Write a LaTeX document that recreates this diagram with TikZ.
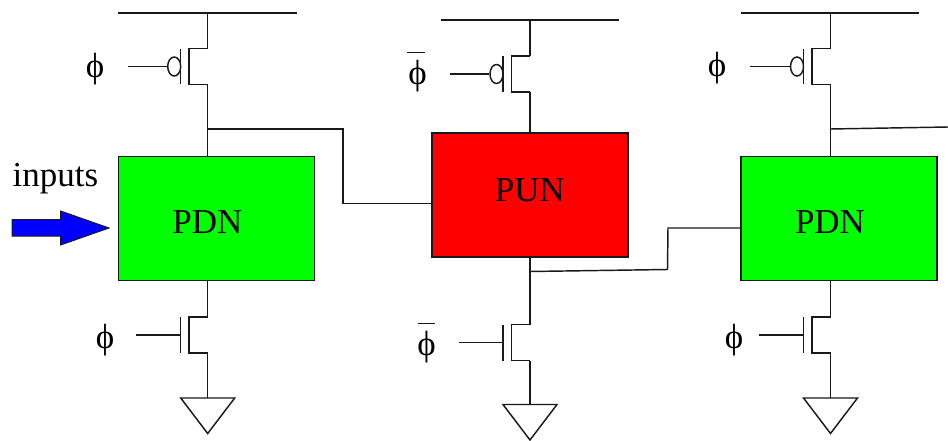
\documentclass[tikz,border=0pt]{standalone}
\usepackage{fontspec}
\setmainfont{Liberation Serif}
\usetikzlibrary{shapes.geometric,calc}
\tikzset{
  wire/.style={draw=black!90,line width=1.45pt,line join=miter},
  block/.style={draw=black!90,line width=1.6pt,minimum width=196pt,minimum height=124pt,inner sep=0pt,font=\fontsize{35}{35}\selectfont},
  lbl/.style={inner sep=0pt,font=\fontsize{35}{35}\selectfont},
  bubble/.style={ellipse,draw=black!90,line width=1.45pt,minimum width=13pt,minimum height=19pt,inner sep=0pt},
  pmos/.pic={
    \coordinate (-s) at (0,0);
    \coordinate (-d) at (0,36);
    \coordinate (-c1) at (-18.5,0);
    \coordinate (-c2) at (-18.5,36);
    \coordinate (-b1) at (-27,0.5);
    \coordinate (-b2) at (-27,36);
    \node[bubble] (-o) at (-33.5,18) {};
    \draw[wire] (-s) -- (-c1) -- (-c2) -- (-d);
    \draw[wire] (-b1) -- (-b2);
  },
  nmos/.pic={
    \coordinate (-s) at (0,0);
    \coordinate (-d) at (0,36);
    \coordinate (-c1) at (-18.5,0);
    \coordinate (-c2) at (-18.5,36);
    \coordinate (-b1) at (-27,0);
    \coordinate (-b2) at (-27,36);
    \coordinate (-g) at (-27,18);
    \draw[wire] (-s) -- (-c1) -- (-c2) -- (-d);
    \draw[wire] (-b1) -- (-b2);
  },
  gnd/.pic={
    \coordinate (-t) at (0,0);
    \draw[wire] (-27,0) -- (27,0) -- (0,35.5) -- cycle;
  }
}
\newcommand{\phisym}{\char"03D5 }
\begin{document}
\begin{tikzpicture}[x=1pt,y=-1pt]
\useasboundingbox (0,0) rectangle (948,441);
% stage 1
\coordinate (r1a) at (118,13); \coordinate (r1b) at (297,13); \coordinate (r1m) at (207.7,13);
\node[block,fill=green] (pdn1) at (216.3,218.5) {};
\node[lbl] (pdn1t) at (207.5,222) {PDN};
\pic (p1) at (207.7,48.5) {pmos};
\pic (n1) at (207.7,317) {nmos};
\pic (g1) at (207.7,398) {gnd};
\coordinate (pdn1top) at (207.7,157); \coordinate (pdn1bot) at (207.7,280);
\coordinate (g1in) at (127.5,66.5); \coordinate (g1nin) at (136,335);
\draw[wire] (r1a) -- (r1b);
\draw[wire] (r1m) -- (p1-s);
\draw[wire] (p1-d) -- (pdn1top);
\draw[wire] (g1in) -- (p1-o.west);
\draw[wire] (pdn1bot) -- (n1-s);
\draw[wire] (n1-d) -- (g1-t);
\draw[wire] (g1nin) -- (n1-g);
\node[lbl] (ph1) at (95,69) {\phisym};
\node[lbl] (ph1n) at (105,340) {\phisym};
\node[lbl] (inp) at (55.5,179) {inputs};
% arrow
\draw[draw=black!90,line width=1pt,fill=blue] (12,219.5) -- (60.5,219.5) -- (60.5,211) -- (109,228) -- (60.5,245) -- (60.5,236) -- (12,236) -- cycle;
% stage 2
\coordinate (r2a) at (441,20); \coordinate (r2b) at (619,20); \coordinate (r2m) at (530,20);
\node[block,fill=red] (pun) at (530,195) {};
\node[lbl] (punt) at (530,190) {PUN};
\pic (p2) at (530,56) {pmos};
\pic (n2) at (530,324.5) {nmos};
\pic (g2) at (530,404.5) {gnd};
\coordinate (puntop) at (530,133); \coordinate (punbot) at (530,257);
\coordinate (g2in) at (450,74); \coordinate (g2nin) at (459,342.5);
\draw[wire] (r2a) -- (r2b);
\draw[wire] (r2m) -- (p2-s);
\draw[wire] (p2-d) -- (puntop);
\draw[wire] (g2in) -- (p2-o.west);
\draw[wire] (punbot) -- (n2-s);
\draw[wire] (n2-d) -- (g2-t);
\draw[wire] (g2nin) -- (n2-g);
\node[lbl] (ph2) at (417.5,76) {\phisym};
\node[lbl] (ph2n) at (426.5,347) {\phisym};
\coordinate (ob1a) at (407,52.5); \coordinate (ob1b) at (425,52.5);
\coordinate (ob2a) at (417.5,323.5); \coordinate (ob2b) at (435,323.5);
\draw[wire] (ob1a) -- (ob1b);
\draw[wire] (ob2a) -- (ob2b);
% stage 3
\coordinate (r3a) at (741,13); \coordinate (r3b) at (919,13); \coordinate (r3m) at (830.5,13);
\node[block,fill=green] (pdn2) at (839,218.5) {};
\node[lbl] (pdn2t) at (830,222) {PDN};
\pic (p3) at (830.5,48.5) {pmos};
\pic (n3) at (830.5,317) {nmos};
\pic (g3) at (830.5,398) {gnd};
\coordinate (pdn2top) at (830.5,157); \coordinate (pdn2bot) at (830.5,280);
\coordinate (g3in) at (750,66.5); \coordinate (g3nin) at (758.5,335);
\draw[wire] (r3a) -- (r3b);
\draw[wire] (r3m) -- (p3-s);
\draw[wire] (p3-d) -- (pdn2top);
\draw[wire] (g3in) -- (p3-o.west);
\draw[wire] (pdn2bot) -- (n3-s);
\draw[wire] (n3-d) -- (g3-t);
\draw[wire] (g3nin) -- (n3-g);
\node[lbl] (ph3) at (717,68.5) {\phisym};
\node[lbl] (ph3n) at (734,340) {\phisym};
% interstage
\coordinate (j1) at (207.7,129); \coordinate (k1) at (343,129); \coordinate (k2) at (343,203.5);
\draw[wire] (j1) -- (k1) -- (k2) -- (k2 -| pun.west);
\coordinate (j2) at (530,271.5); \coordinate (k3) at (667.5,269.5); \coordinate (k4) at (668,228);
\draw[wire] (j2) -- (k3) -- (k4) -- (k4 -| pdn2.west);
\coordinate (j3) at (830.5,129); \coordinate (k5) at (948,127);
\draw[wire] (j3) -- (k5);
\end{tikzpicture}
\end{document}
